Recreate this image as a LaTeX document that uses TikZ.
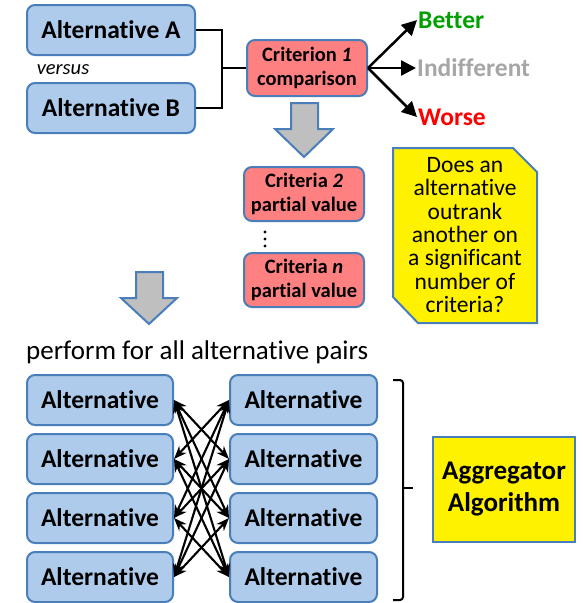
\documentclass[tikz,border=0pt]{standalone}
\usepackage{fontspec}
\setmainfont{Carlito}[Ligatures=NoCommon]
\usetikzlibrary{arrows.meta}
\definecolor{boxblue}{RGB}{174,203,235}
\definecolor{edgeblue}{RGB}{74,126,187}
\definecolor{critred}{RGB}{255,128,128}
\definecolor{arrowgray}{RGB}{191,191,191}
\definecolor{goodgreen}{RGB}{0,160,0}
\definecolor{neutralgray}{RGB}{166,166,166}
\tikzset{
  altbox/.style={draw=edgeblue, line width=2pt, fill=boxblue, rounded corners=8pt,
    inner sep=0pt, minimum height=50pt, minimum width=#1,
    font=\fontsize{25.5}{28}\selectfont\bfseries},
  critbox/.style={draw=edgeblue, line width=2pt, fill=critred, rounded corners=8pt,
    inner sep=0pt, minimum width=120pt, minimum height=#1, align=center,
    font=\fontsize{20.5}{24.5}\selectfont\bfseries},
  bigarrow/.style={draw=edgeblue, line width=2pt, fill=arrowgray, line join=miter},
  outcome/.style={anchor=west, inner sep=1pt, font=\fontsize{25.5}{28}\selectfont\bfseries},
  fan/.style={-{Triangle[length=15pt,width=15pt]}, line width=2.5pt},
  pair/.style={{Stealth[length=13pt,width=10pt]}-{Stealth[length=13pt,width=10pt]}, line width=2.1pt},
  dot/.style={circle, fill=black, inner sep=0pt, minimum size=3.4pt},
}
\begin{document}
\begin{tikzpicture}[x=1pt, y=-1pt]
\useasboundingbox (0,0) rectangle (582,603);

% pairwise comparison of two alternatives
\node[altbox=168pt] (altA) at (111,30) {Alternative A};
\node[altbox=168pt] (altB) at (111,108) {Alternative B};
\node[font=\fontsize{20.5}{22}\selectfont\itshape] (versus) at (63,70) {versus};
\node[critbox=56pt] (crit1) at (307,68) {Criterion \textit{1}\\comparison};
\coordinate (join) at (222,68);
\draw[line width=1.5pt] (altA.east) -| (join) |- (altB.east);
\draw[line width=1.5pt] (join) -- (crit1.west);

% possible outcomes
\node[outcome, text=goodgreen] (better) at (417,20) {Better};
\node[outcome, text=neutralgray] (indiff) at (416,68) {Indifferent};
\node[outcome, text=red] (worse) at (417,117) {Worse};
\draw[fan] (crit1.east) -- (better.west);
\draw[fan] (crit1.east) -- (indiff.west);
\draw[fan] (crit1.east) -- (worse.west);

% remaining criteria
\draw[bigarrow] (291,103) -- (318,103) -- (318,129) -- (333,129) -- (304,157)
  -- (275,129) -- (291,129) -- cycle;
\node[critbox=54pt] (crit2) at (304,194) {Criteria \textit{2}\\partial value};
\node[dot] (dot1) at (265,232) {};
\node[dot] (dot2) at (265,239) {};
\node[dot] (dot3) at (265,246) {};
\node[critbox=54pt] (critn) at (304,280) {Criteria \textit{n}\\partial value};

% question note with clipped corners
\draw[draw=edgeblue, line width=2pt, fill=yellow, line join=miter]
  (393,148) -- (513,148) -- (537,172) -- (537,323) -- (418,323) -- (393,297) -- cycle;
\node[align=center, font=\fontsize{23.5}{23.3}\selectfont] (question) at (465,235)
  {Does an\\alternative\\outrank\\another on\\a significant\\number of\\criteria?};

% repeat over all pairs
\draw[bigarrow] (136,272) -- (163,272) -- (163,298) -- (177,298) -- (149,324)
  -- (121,298) -- (136,298) -- cycle;
\node[anchor=west, inner sep=0pt, font=\fontsize{27}{30}\selectfont] (perform) at (26,352)
  {perform for all alternative pairs};

\foreach \k/\y in {1/400,2/459,3/518,4/577}{
  \node[altbox=146pt] (L\k) at (100,\y) {Alternative};
  \node[altbox=147pt] (R\k) at (303.5,\y) {Alternative};
}
\foreach \i in {1,...,4}{
  \foreach \j in {1,...,4}{
    \ifnum\i=\j\else \draw[pair] (L\i.east) -- (R\j.west);\fi
  }
}

% aggregation
\draw[line width=2pt, rounded corners=3pt] (393,380) -- (403,380) -- (403,600) -- (393,600);
\draw[line width=2pt] (403,488) -- (413,488);
\node[draw=edgeblue, line width=2pt, fill=yellow, minimum width=142pt, minimum height=105pt,
  align=center, font=\fontsize{27}{32}\selectfont\bfseries] (agg) at (504,489.5)
  {Aggregator\\Algorithm};
\end{tikzpicture}
\end{document}
